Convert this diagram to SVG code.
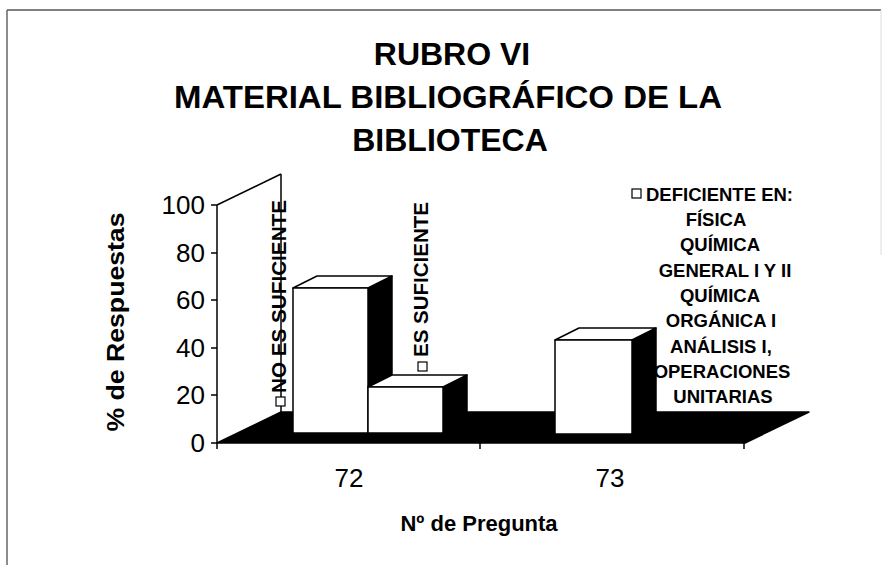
<svg xmlns="http://www.w3.org/2000/svg" width="885" height="565" viewBox="0 0 885 565">
  <style>
    text { font-family: "Liberation Sans", Arial, Helvetica, sans-serif; fill: #000; }
    .title { font-size: 32px; font-weight: bold; text-anchor: middle; }
    .tick { font-size: 26px; text-anchor: end; }
    .cat { font-size: 26px; text-anchor: middle; }
    .axt { font-size: 22px; font-weight: bold; }
    .dl { font-size: 20px; font-weight: bold; }
    .leg { font-size: 18.5px; font-weight: bold; text-anchor: middle; }
    .face { fill: #fff; stroke: #000; stroke-width: 1.5; stroke-linejoin: round; }
    .side { fill: #000; stroke: #000; stroke-width: 1.5; stroke-linejoin: round; }
    .ax { stroke: #000; stroke-width: 1.5; fill: none; }
    .key { fill: #fff; stroke: #000; stroke-width: 1.2; }
  </style>
  <rect x="0" y="0" width="885" height="565" fill="#fff"/>
  <!-- page border -->
  <g id="border" fill="none">
    <line x1="7" y1="10" x2="881" y2="10" stroke="#555" stroke-width="1.5"/>
    <line x1="7" y1="10" x2="7" y2="565" stroke="#666" stroke-width="1.5"/>
    <line x1="881" y1="10" x2="881" y2="255" stroke="#ddd" stroke-width="1"/>
  </g>
  <!-- title -->
  <g id="title">
    <text class="title" x="452" y="65">RUBRO VI</text>
    <text class="title" x="448" y="108" textLength="548" lengthAdjust="spacingAndGlyphs">MATERIAL BIBLIOGRÁFICO DE LA</text>
    <text class="title" x="450" y="151">BIBLIOTECA</text>
  </g>
  <!-- floor -->
  <g id="floor">
    <polygon class="side" points="217,443 745,443 809,412 281,412"/>
  </g>
  <!-- walls / axes -->
  <g id="axes">
    <line class="ax" x1="217" y1="205" x2="217" y2="449"/>
    <line class="ax" x1="217" y1="205" x2="281" y2="174"/>
    <line class="ax" x1="281" y1="174" x2="281" y2="412"/>
    <line class="ax" x1="211" y1="205" x2="217" y2="205"/>
    <line class="ax" x1="211" y1="253" x2="217" y2="253"/>
    <line class="ax" x1="211" y1="300" x2="217" y2="300"/>
    <line class="ax" x1="211" y1="348" x2="217" y2="348"/>
    <line class="ax" x1="211" y1="395" x2="217" y2="395"/>
    <line class="ax" x1="211" y1="443" x2="217" y2="443"/>
    <line class="ax" x1="480" y1="443" x2="480" y2="449"/>
    <line class="ax" x1="744" y1="443" x2="744" y2="449"/>
  </g>
  <g id="yticks">
    <text class="tick" x="205" y="214">100</text>
    <text class="tick" x="205" y="262">80</text>
    <text class="tick" x="205" y="309">60</text>
    <text class="tick" x="205" y="357">40</text>
    <text class="tick" x="205" y="404">20</text>
    <text class="tick" x="205" y="452">0</text>
  </g>
  <!-- bars -->
  <g id="bar-72-no">
    <polygon class="side" points="368,288 392,276 392,421 368,433"/>
    <polygon class="face" points="293,288 317,276 392,276 368,288"/>
    <rect class="face" x="293" y="288" width="75" height="145"/>
  </g>
  <g id="bar-72-si">
    <polygon class="side" points="443,387 467,375 467,421 443,433"/>
    <polygon class="face" points="368,387 392,375 467,375 443,387"/>
    <rect class="face" x="368" y="387" width="75" height="46"/>
  </g>
  <g id="bar-73-def">
    <polygon class="side" points="632,340 656,328 656,422 632,434"/>
    <polygon class="face" points="555,340 579,328 656,328 632,340"/>
    <rect class="face" x="555" y="340" width="77" height="94"/>
  </g>
  <!-- data labels -->
  <g id="label-no">
    <rect class="key" x="276" y="397" width="9" height="9"/>
    <text class="dl" transform="translate(286,393) rotate(-90)" textLength="193" lengthAdjust="spacingAndGlyphs">NO ES SUFICIENTE</text>
  </g>
  <g id="label-si">
    <rect class="key" x="418" y="362" width="9" height="9"/>
    <text class="dl" transform="translate(428,357) rotate(-90)" textLength="155" lengthAdjust="spacingAndGlyphs">ES SUFICIENTE</text>
  </g>
  <g id="label-def">
    <rect class="key" x="632" y="189" width="9" height="9"/>
    <text x="646" y="201" style="font-size:18.5px;font-weight:bold" textLength="147" lengthAdjust="spacingAndGlyphs">DEFICIENTE EN:</text>
    <text class="leg" x="716" y="226">FÍSICA</text>
    <text class="leg" x="720" y="251">QUÍMICA</text>
    <text class="leg" x="725" y="277">GENERAL I Y II</text>
    <text class="leg" x="720" y="302">QUÍMICA</text>
    <text class="leg" x="721" y="327">ORGÁNICA I</text>
    <text class="leg" x="721" y="353">ANÁLISIS I,</text>
    <text class="leg" x="722" y="378">OPERACIONES</text>
    <text class="leg" x="723" y="403">UNITARIAS</text>
  </g>
  <!-- category labels -->
  <g id="xcats">
    <text class="cat" x="349" y="487">72</text>
    <text class="cat" x="610" y="487">73</text>
  </g>
  <g id="axis-titles">
    <text class="axt" x="479" y="531" text-anchor="middle">Nº de Pregunta</text>
    <text class="axt" transform="translate(124,322) rotate(-90)" text-anchor="middle" style="font-size:23px" textLength="219" lengthAdjust="spacingAndGlyphs">% de Respuestas</text>
  </g>
</svg>
